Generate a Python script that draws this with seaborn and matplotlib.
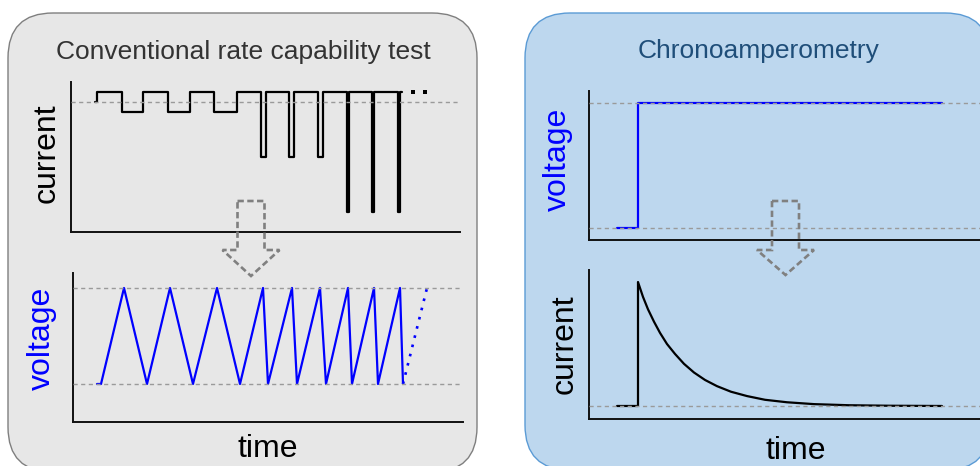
import matplotlib
matplotlib.use("Agg")
import matplotlib.pyplot as plt
import seaborn as sns
from matplotlib.patches import FancyBboxPatch, Polygon
from matplotlib.transforms import Affine2D

# Conventional rate capability test: applied current (step changes) ...
rate_i_time = [2.4, 2.6, 5.1, 7.2, 9.7, 11.9, 14.3, 16.6, 19.0, 19.5, 21.8, 22.3,
               24.7, 25.2, 27.6, 27.8, 30.1, 30.3, 32.7, 32.9, 33.1]
rate_current = [0, 1, -1, 1, -1, 1, -1, 1, -5.5, 1, -5.5, 1,
                -5.5, 1, -11, 1, -11, 1, -11, 1, 1]
rate_more_time = [34.2, 35.4]          # the "· ·" continuation
rate_more_current = [1, 1]
# ... and the voltage response
rate_v_time = [2.4, 2.8, 5.1, 7.4, 9.7, 12.0, 14.4, 16.7, 19.0, 19.5, 21.9, 22.4,
               24.7, 25.3, 27.5, 27.9, 30.1, 30.5, 32.7, 33.0]
rate_voltage = [0, 0, 1, 0, 1, 0, 1, 0, 1, 0, 1, 0, 1, 0, 1, 0, 1, 0, 1, 0]
rate_v_next_time = [33.0, 35.4]        # dotted continuation
rate_v_next = [0, 1]

# Chronoamperometry: voltage step ...
ca_v_time = [2.8, 4.9, 4.9, 35.3]
ca_voltage = [0, 0, 1, 1]
# ... and the decaying current response
ca_i_time = [2.8, 4.9, 4.9, 5.4, 5.9, 6.5, 7.1, 7.8, 8.6, 9.5, 10.5, 11.6, 12.8,
             14.2, 15.8, 17.6, 19.8, 22.5, 26.0, 30.0, 35.3]
ca_current = [0, 0, 1.0, 0.88, 0.78, 0.68, 0.59, 0.50, 0.42, 0.34, 0.27, 0.21, 0.16,
              0.115, 0.08, 0.05, 0.03, 0.015, 0.006, 0.002, 0.0]

panel_titles = ["Conventional rate capability test", "Chronoamperometry"]
label_current, label_voltage, label_time = "current", "voltage", "time"

# ---------------- style ----------------
sns.set_style("white")
plt.rcParams["font.family"] = ["Liberation Sans", "DejaVu Sans"]

W, H = 980, 466
fig = plt.figure(figsize=(W / 100, H / 100), dpi=100)
fig.patch.set_facecolor("white")
px = Affine2D().scale(1, -1).translate(0, H)   # image-pixel coordinates (y down)

# background panels
fig.add_artist(FancyBboxPatch((8, 13), 469, 459, boxstyle="round,pad=0,rounding_size=45",
                              fc="#e7e7e7", ec="#7f7f7f", lw=1.0, transform=px, zorder=-5))
fig.add_artist(FancyBboxPatch((525, 13), 465, 457, boxstyle="round,pad=0,rounding_size=45",
                              fc="#bdd7ee", ec="#5b9bd5", lw=1.0, transform=px, zorder=-5))


def add_ax(x0, y0, x1, y1, xlim, ylim):
    ax = fig.add_axes([x0 / W, 1 - y1 / H, (x1 - x0) / W, (y1 - y0) / H])
    ax.set_facecolor("none")
    for s in ["top", "right"]:
        ax.spines[s].set_visible(False)
    for s in ["left", "bottom"]:
        ax.spines[s].set_color("#111111")
        ax.spines[s].set_linewidth(1.4)
    ax.set_xticks([])
    ax.set_yticks([])
    ax.set_xlim(*xlim)
    ax.set_ylim(*ylim)
    ax.set_xlabel("")
    ax.set_ylabel("")
    return ax


def ref(ax, y):
    ax.axhline(y, color="#9a9a9a", lw=1.0, ls=(0, (3, 2.5)), zorder=3)


def ylab(text, x, y, color):
    fig.text(x, y, text, transform=px, fontsize=23, color=color, rotation=90,
             rotation_mode="anchor", ha="center", va="baseline")


def xlab(text, x, y):
    fig.text(x, y, text, transform=px, fontsize=23, color="black",
             ha="center", va="baseline")


LW = 1.6
common = dict(estimator=None, sort=False, legend=False)

# --- left top: current ---
ax1 = add_ax(71, 82, 460, 232, (0, 38.9), (-13, 2))
sns.lineplot(x=rate_i_time, y=rate_current, ax=ax1, color="black", linewidth=LW,
             drawstyle="steps-post", **common)
sns.scatterplot(x=rate_more_time, y=rate_more_current, ax=ax1, color="black",
                marker="s", s=6, linewidth=0, legend=False)
ref(ax1, 0)
ax1.set_ylabel("")
ylab(label_current, 55, 153, "black")

# --- left bottom: voltage ---
ax2 = add_ax(73, 273, 463, 422, (0, 39.0), (-0.396, 1.156))
sns.lineplot(x=rate_v_time, y=rate_voltage, ax=ax2, color="#0000ff", linewidth=LW, **common)
sns.lineplot(x=rate_v_next_time, y=rate_v_next, ax=ax2, color="#0000ff", linewidth=LW + 0.3,
             linestyle=(0, (1.0, 2.6)), **common)
ref(ax2, 0)
ref(ax2, 1)
ylab(label_voltage, 50, 338, "#0000ff")
xlab(label_time, 268, 457)

# --- right top: voltage ---
ax3 = add_ax(589, 91, 980, 240, (0, 39.1), (-0.096, 1.096))
sns.lineplot(x=ca_v_time, y=ca_voltage, ax=ax3, color="#0000ff", linewidth=LW, **common)
ref(ax3, 0)
ref(ax3, 1)
ylab(label_voltage, 566, 159, "#0000ff")

# --- right bottom: current ---
ax4 = add_ax(589, 270, 980, 419, (0, 39.1), (-0.105, 1.097))
sns.lineplot(x=ca_i_time, y=ca_current, ax=ax4, color="black", linewidth=LW, **common)
ref(ax4, 0)
ylab(label_current, 573, 344, "black")
xlab(label_time, 796, 459)

# titles
fig.text(243, 59, panel_titles[0], transform=px, fontsize=19, color="#333333",
         ha="center", va="baseline")
fig.text(759, 58, panel_titles[1], transform=px, fontsize=19, color="#1f4e79",
         ha="center", va="baseline")

# dashed "leads to" arrows
for cx, tip in [(251, 276), (785.5, 275)]:
    verts = [(cx - 13.5, 201), (cx + 13.5, 201), (cx + 13.5, 250), (cx + 28.5, 250),
             (cx, tip), (cx - 28.5, 250), (cx - 13.5, 250)]
    fig.add_artist(Polygon(verts, closed=True, fill=False, ec="#808080", lw=1.9,
                           ls=(0, (2.4, 1.3)), transform=px, zorder=10))

fig.savefig("out.png", dpi=100)
